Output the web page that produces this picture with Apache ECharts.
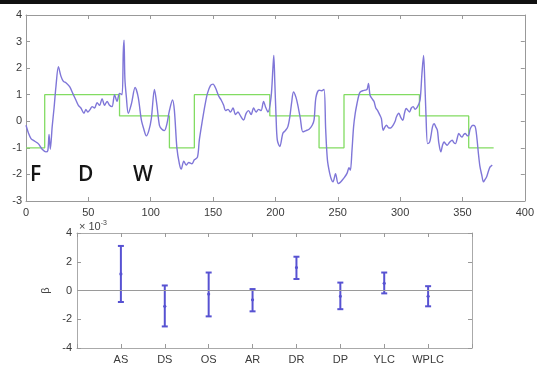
<!DOCTYPE html>
<html>
<head>
<meta charset="utf-8">
<script src="https://cdn.jsdelivr.net/npm/echarts@6/dist/echarts.min.js"></script>
<style>
  html, body { margin: 0; padding: 0; background: #fff; }
  #chart { width: 537px; height: 369px; }
</style>
</head>
<body>
<div id="chart"></div>
<script>
// top panel: time series (blue) and condition levels (green)
const timeSteps = [
  0, 2, 4, 7, 10, 13, 16, 17.5, 18.5, 19.5, 21, 22.5, 24, 26, 28, 30, 32, 35, 37.5, 40,
  42, 44, 46.5, 48, 49.5, 51.5, 53, 55, 57, 59, 61, 63, 65, 67, 69, 71, 73, 75, 77, 78,
  78.6, 79.3, 80.5, 82, 84.5, 87.5, 90, 92.5, 94.5, 96.5, 98.5, 100.5, 103, 105, 107, 109, 111, 113, 115, 117.5,
  119, 121, 123, 124.5, 126.5, 128.5, 130.5, 133, 135, 137.5, 139, 141.5, 143.5, 145.5, 148, 150, 152, 154.5, 156.5, 158.5,
  160, 162, 164, 166, 168, 170, 172, 174.5, 176.5, 178.5, 180.5, 182.5, 184.5, 186.5, 188.5, 190.5, 192, 194, 196.5, 198,
  198.7, 199.5, 200.5, 201.5, 203.5, 206, 208, 210, 211.5, 213, 214.5, 216.5, 218, 220, 222, 224.5, 227, 229.5, 231, 232.5,
  235, 237, 239, 240.3, 241.7, 243.5, 245, 246.2, 248.2, 250.3, 252, 253.5, 255.5, 257.5, 259, 260.1, 261.4, 262.7, 264, 265.4,
  267, 268, 270, 272, 273.5, 274.6, 275.9, 277.5, 279, 280.5, 282, 283.8, 285, 286.4, 288, 289.1, 291, 292.5, 294.3, 296,
  297, 299, 300.5, 302.2, 303.5, 304.9, 307.5, 309, 310.5, 312, 314, 316, 317.5, 318.8, 319.7, 320.7, 322, 323.5, 324.6, 326,
  327.3, 328.5, 329.9, 331, 332.6, 334, 335.2, 336.5, 337.8, 339.5, 341.8, 343, 344.4, 346, 347, 348.5, 349.7, 351, 352.3, 354,
  355, 356.3, 358.4, 360.2, 361.5, 362.8, 364, 365.5, 366.8, 368, 369.4, 371, 372.1, 373.9
];
const signal = [
  -0.15, -0.45, -0.65, -0.75, -0.85, -1.05, -1.15, -1.1, -0.5, -1.05, -0.2, 0.5, 1.3, 2.05, 1.7, 1.5, 1.45, 1.3, 1.05, 0.8,
  0.6, 0.5, 0.3, 0.45, 0.35, 0.45, 0.55, 0.5, 0.7, 0.6, 0.85, 0.6, 0.75, 0.6, 0.55, 1.0, 0.75, 1.05, 1.0, 2.6,
  3.05, 1.6, 0.9, 0.3, 0.65, 1.27, 0.9, 0.05, -0.3, -0.55, -0.35, 0.1, 1.2, 0.6, -0.15, -0.3, -0.35, -0.1, 0.4, 0.8,
  0.4, -1.0, -1.6, -1.8, -1.5, -1.65, -1.55, -1.6, -1.45, -1.35, -0.7, 0.05, 0.6, 1.05, 1.35, 1.4, 1.25, 0.95, 0.8, 0.6,
  0.4, 0.45, 0.35, 0.5, 0.25, 0.35, 0.2, 0.05, 0.3, 0.4, 0.25, 0.5, 0.35, 0.45, 0.4, 0.75, 0.55, 0.35, 0.9, 2.0,
  2.48, 1.5, 0.2, -0.7, -0.95, -0.45, -0.35, -0.2, 0.15, 0.7, 1.1, 0.9, 0.6, 0.1, -0.4, -0.35, -0.3, -0.15, 0.05, 0.9,
  1.17, 1.15, 1.2, -0.3, -1.45, -1.95, -2.2, -2.28, -1.97, -2.34, -2.3, -2.22, -2.1, -1.95, -1.75, -1.84, -1.1, -0.2, 0.3, 0.66,
  1.0, 1.1, 1.15, 1.17, 1.2, 1.42, 0.98, 0.85, 0.75, 0.5, 0.4, 0.23, 0.1, -0.34, -0.2, -0.15, -0.25, -0.25, -0.15, 0.0,
  0.16, 0.3, 0.15, 0.04, 0.3, 0.48, 0.35, 0.5, 0.55, 0.45, 0.55, 0.8, 1.8, 2.48, 1.6, 0.3, -0.84, -0.8, -0.59, -0.2,
  -0.09, -0.2, -0.34, -0.8, -1.15, -0.9, -0.78, -0.85, -0.9, -0.8, -0.71, -0.8, -0.84, -0.6, -0.46, -0.55, -0.59, -0.5, -0.46, -0.55,
  -0.53, -0.27, -0.15, -0.2, -0.6, -1.22, -1.7, -2.03, -2.28, -2.2, -2.09, -1.85, -1.72, -1.65
];
const stepStarts = [0, 15, 75, 115, 135, 195.5, 235, 255, 315.5, 355, 375];
const stepLevels = [-1, 1, 0.2, -1, 1, 0.2, -1, 1, 0.2, -1, -1];
const phaseLabels = ['F', 'D', 'W'];

// bottom panel: beta estimates (x 10^-3)
const predictors = ['AS', 'DS', 'OS', 'AR', 'DR', 'DP', 'YLC', 'WPLC'];
const betaLow = [-0.8, -2.5, -1.8, -1.45, 0.8, -1.3, -0.2, -1.1];
const betaMid = [1.15, -1.1, -0.25, -0.65, 1.6, -0.4, 0.5, -0.4];
const betaHigh = [3.1, 0.35, 1.25, 0.1, 2.35, 0.55, 1.25, 0.3];

const mychart = echarts.init(document.getElementById('chart'))

const font = '"Liberation Sans", Arial, sans-serif'
const frameTop = { show: true, onZero: false, lineStyle: { color: '#999', width: 1 } }
const frameBot = { show: true, onZero: false, lineStyle: { color: '#aaa', width: 1 } }
const inTick = { show: true, inside: true, length: 4, lineStyle: { color: '#999' } }
const label = { color: '#3a3a3a', fontSize: 11, fontFamily: font }

const signalData = timeSteps.map((t, i) => [t, signal[i]])
const stepData = stepStarts.map((t, i) => [t, stepLevels[i]])
const errData = predictors.map((p, i) => [i + 1, betaLow[i], betaMid[i], betaHigh[i]])

function renderErr (params, api) {
  const x = api.value(0)
  const lo = api.coord([x, api.value(1)])
  const mid = api.coord([x, api.value(2)])
  const hi = api.coord([x, api.value(3)])
  const style = { stroke: '#5752d2', lineWidth: 2 }
  return {
    type: 'group',
    children: [
      { type: 'line', shape: { x1: lo[0], y1: lo[1], x2: hi[0], y2: hi[1] }, style },
      { type: 'line', shape: { x1: lo[0] - 3, y1: lo[1], x2: lo[0] + 3, y2: lo[1] }, style },
      { type: 'line', shape: { x1: hi[0] - 3, y1: hi[1], x2: hi[0] + 3, y2: hi[1] }, style },
      { type: 'circle', shape: { cx: mid[0], cy: mid[1], r: 1.6 }, style: { fill: '#5752d2' } }
    ]
  }
}

const letterStyle = { fontSize: 21, fontWeight: 600, fontFamily: '"Open Sans", sans-serif', fill: '#151515' }

const option = {
  animation: false,
  backgroundColor: '#fff',
  textStyle: { fontFamily: font },
  graphic: [
    { type: 'rect', left: 0, top: 0, shape: { width: 537, height: 4 }, style: { fill: '#111' } },
    { type: 'text', left: 30, top: 165, style: { text: phaseLabels[0], ...letterStyle } },
    { type: 'text', left: 78, top: 165, style: { text: phaseLabels[1], ...letterStyle } },
    { type: 'text', left: 133, top: 165, style: { text: phaseLabels[2], ...letterStyle } },
    {
      type: 'text', left: 79, top: 220,
      style: {
        text: '× 10{s|-3}',
        fontSize: 11, fontFamily: font, fill: '#444',
        rich: { s: { fontSize: 7, fill: '#444', verticalAlign: 'top', padding: [0, 0, 6, 0] } }
      }
    }
  ],
  grid: [
    { left: 26, top: 15, width: 506, height: 186 },
    { left: 77, top: 233, width: 395, height: 115 }
  ],
  xAxis: [
    { gridIndex: 0, type: 'value', min: 0, max: 400, interval: 50, axisLine: frameTop, axisTick: inTick, splitLine: { show: false }, axisLabel: { ...label, margin: 6 } },
    { gridIndex: 0, type: 'value', position: 'top', min: 0, max: 400, interval: 50, axisLine: frameTop, axisTick: inTick, splitLine: { show: false }, axisLabel: { show: false } },
    {
      gridIndex: 1, type: 'value', min: 0, max: 9, interval: 1, axisLine: frameBot, axisTick: inTick, splitLine: { show: false },
      axisLabel: { ...label, margin: 6, formatter: v => predictors[v - 1] || '' }
    },
    { gridIndex: 1, type: 'value', position: 'top', min: 0, max: 9, interval: 1, axisLine: frameBot, axisTick: inTick, splitLine: { show: false }, axisLabel: { show: false } }
  ],
  yAxis: [
    { gridIndex: 0, type: 'value', min: -3, max: 4, interval: 1, axisLine: frameTop, axisTick: inTick, splitLine: { show: false }, axisLabel: { ...label, margin: 4 } },
    { gridIndex: 0, type: 'value', position: 'right', min: -3, max: 4, interval: 1, axisLine: frameTop, axisTick: inTick, splitLine: { show: false }, axisLabel: { show: false } },
    {
      gridIndex: 1, type: 'value', min: -4, max: 4, interval: 2, axisLine: frameBot, axisTick: inTick, splitLine: { show: false },
      axisLabel: { ...label, margin: 5 },
      name: 'β', nameLocation: 'middle', nameGap: 24, nameRotate: 90,
      nameTextStyle: { color: '#444', fontSize: 11, fontFamily: font }
    },
    { gridIndex: 1, type: 'value', position: 'right', min: -4, max: 4, interval: 2, axisLine: frameBot, axisTick: inTick, splitLine: { show: false }, axisLabel: { show: false } }
  ],
  series: [
    {
      type: 'line', xAxisIndex: 0, yAxisIndex: 0, data: stepData, step: 'end',
      showSymbol: false, lineStyle: { color: '#82dc62', width: 1.3 }
    },
    {
      type: 'line', xAxisIndex: 0, yAxisIndex: 0, data: signalData, smooth: 0.3,
      showSymbol: false, lineStyle: { color: '#7f76d8', width: 1.4 }
    },
    {
      type: 'custom', xAxisIndex: 2, yAxisIndex: 2, data: errData, renderItem: renderErr,
      encode: { x: 0, y: [1, 2, 3] },
      markLine: {
        silent: true, symbol: 'none', label: { show: false },
        lineStyle: { color: '#9a9a9a', type: 'solid', width: 1 },
        data: [{ yAxis: 0 }]
      }
    }
  ]
}
mychart.setOption(option)
</script>
</body>
</html>
